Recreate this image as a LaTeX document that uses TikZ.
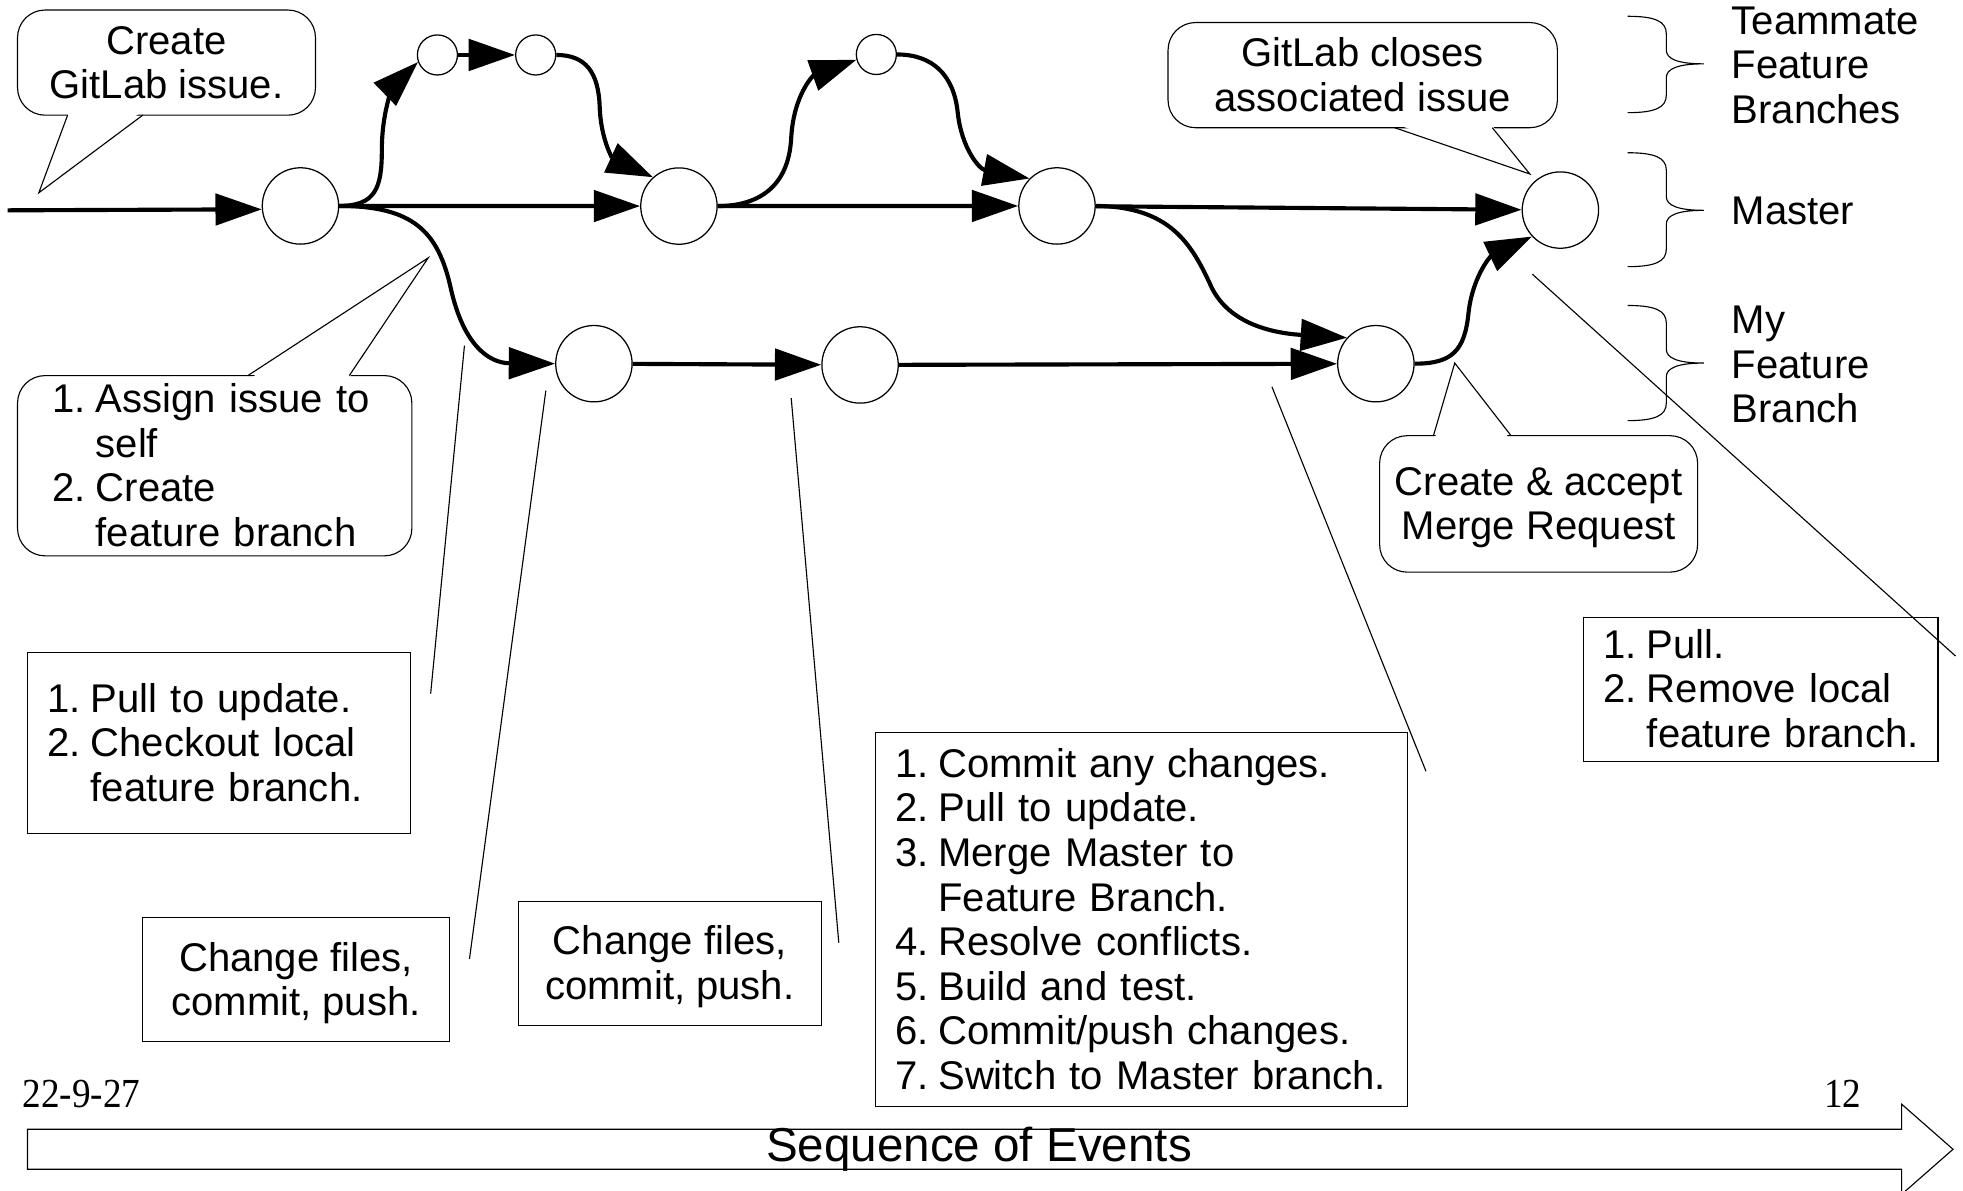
\documentclass[tikz,border=0pt]{standalone}
\usepackage{fontspec}
\setmainfont{Liberation Sans}
\newfontfamily\seriffont{Liberation Serif}
\usetikzlibrary{arrows.meta}
\frenchspacing
\newcommand\tline[1]{\mbox{\rule[-6.7pt]{0pt}{35.4pt}#1}}
\newcommand\numbox[1]{\makebox[34.5pt][l]{#1}}
\begin{document}
\begin{tikzpicture}[x=1pt,y=-1pt,
  commit/.style={circle,draw,line width=1pt,fill=white,minimum size=61pt,inner sep=0pt},
  smallcommit/.style={circle,draw,line width=1pt,fill=white,minimum size=32pt,inner sep=0pt},
  flow/.style={line width=3.3pt,-{Triangle[length=37pt,width=25pt]}},
  thinline/.style={line width=0.9pt},
  txt/.style={font=\fontsize{32}{35.6}\selectfont},
  listbox/.style={draw,line width=0.9pt,txt,align=left,inner xsep=16pt,inner ysep=0pt},
  plainbox/.style={draw,line width=0.9pt,txt,align=center,inner sep=0pt},
  bubble/.style={draw,line width=0.9pt,fill=white,rounded corners=22pt,txt,inner sep=0pt},
  lbl/.style={txt,align=left,inner sep=0pt,anchor=west},
  datefont/.style={font=\seriffont\fontsize{33}{36}\selectfont,inner sep=0pt,anchor=base west}
]
\useasboundingbox (0,0) rectangle (1568,951);

% commits
\node[commit] (A) at (240,164.5) {};
\node[commit] (B) at (542.3,164.6) {};
\node[commit] (C) at (844.3,164.5) {};
\node[commit] (D) at (1246.4,167.8) {};
\node[commit] (E) at (474.4,290.5) {};
\node[commit] (F) at (687,291.5) {};
\node[commit] (G) at (1099,290.5) {};
\node[smallcommit] (T1) at (349.4,43.9) {};
\node[smallcommit] (T2) at (427.9,43.9) {};
\node[smallcommit] (T3) at (700,43.5) {};
\coordinate (start) at (6,168);

% flows
\draw[flow] (start) -- (A.185);
\draw[flow] (A.east) .. controls (300,164.5) and (305,150) .. (305,120) .. controls (305,82) and (318,65) .. (T1.200);
\draw[flow] (T1) -- (T2);
\draw[flow] (T2.east) .. controls (468,43.9) and (478,58) .. (479,85) .. controls (480,113) and (490,127) .. (B.132);
\draw[flow] (A) -- (B);
\draw[flow] (A.east) .. controls (330,164.5) and (350,185) .. (360,230) .. controls (370,275) and (390,290) .. (E.west);
\draw[flow] (B.east) .. controls (605,164.6) and (630,150) .. (632,110) .. controls (634,75) and (650,60) .. (T3.195);
\draw[flow] (T3.east) .. controls (745,43.5) and (762,60) .. (765,90) .. controls (768,118) and (782,135) .. (C.135);
\draw[flow] (B) -- (C);
\draw[flow] (C) -- (D);
\draw[flow] (C.east) .. controls (935,165) and (952,195) .. (968,230) .. controls (982,258) and (1015,266) .. (G.138);
\draw[flow] (E) -- (F);
\draw[flow] (F) -- (G);
\draw[flow] (G.east) .. controls (1160,290.5) and (1170,280) .. (1173,250) .. controls (1176,222) and (1190,205) .. (D.223);

% callouts
\node[bubble, minimum width=238pt, minimum height=84pt, align=center] (issue) at (133,50) {\tline{Create}\\\tline{GitLab issue.}};
\fill[white] (55,89) -- (31,154) -- (113,89) -- cycle;
\draw[thinline] (54,92) coordinate (i1) -- (31,154) coordinate (itip) -- (114,92) coordinate (i2);

\node[bubble, text width=259pt, inner xsep=28pt, minimum height=144pt, align=left] (assign) at (171.5,372) {\tline{\numbox{1.}Assign issue to}\\\tline{\numbox{}self}\\\tline{\numbox{2.}Create}\\\tline{\numbox{}feature branch}};
\fill[white] (199,303) -- (342,206) -- (278,303) -- cycle;
\draw[thinline] (198,300) coordinate (a1) -- (342,206) coordinate (atip) -- (279,300) coordinate (a2);

\node[bubble, minimum width=311pt, minimum height=84pt, align=center] (closes) at (1088.5,60) {\tline{GitLab closes}\\\tline{associated issue}};
\fill[white] (1115,99) -- (1222,139) -- (1191,99) -- cycle;
\draw[thinline] (1114,102) coordinate (c1) -- (1222,139) coordinate (ctip) -- (1192,102) coordinate (c2);

\node[bubble, minimum width=254pt, minimum height=109pt, align=center] (mr) at (1229,402.5) {\tline{Create \& accept}\\\tline{Merge Request}};
\fill[white] (1146,351) -- (1162,290) -- (1206,351) -- cycle;
\draw[thinline] (1145,348) coordinate (m1) -- (1162,290) coordinate (mtip) -- (1207,348) coordinate (m2);

% boxes
\node[listbox, text width=274pt, minimum height=145pt] (pullbox) at (175,593.5) {\tline{\numbox{1.}Pull to update.}\\\tline{\numbox{2.}Checkout local}\\\tline{\numbox{}feature branch.}};
\node[plainbox, minimum width=245pt, minimum height=99pt] (chg1) at (236.5,782.5) {\tline{Change files,}\\\tline{commit, push.}};
\node[plainbox, minimum width=242pt, minimum height=99pt] (chg2) at (535,769.5) {\tline{Change files,}\\\tline{commit, push.}};
\node[listbox, text width=393pt, minimum height=299pt] (merge) at (911.5,734.5) {\tline{\numbox{1.}Commit any changes.}\\\tline{\numbox{2.}Pull to update.}\\\tline{\numbox{3.}Merge Master to}\\\tline{\numbox{}Feature Branch.}\\\tline{\numbox{4.}Resolve conflicts.}\\\tline{\numbox{5.}Build and test.}\\\tline{\numbox{6.}Commit/push changes.}\\\tline{\numbox{7.}Switch to Master branch.}};
\node[listbox, text width=251pt, minimum height=115pt] (cleanup) at (1406.5,550.5) {\tline{\numbox{1.}Pull.}\\\tline{\numbox{2.}Remove local}\\\tline{\numbox{}feature branch.}};

% annotation lines
\coordinate (p1a) at (344,554); \coordinate (p1b) at (371,276);
\coordinate (p2a) at (375,766); \coordinate (p2b) at (436,312);
\coordinate (p3a) at (670,753); \coordinate (p3b) at (632,318);
\coordinate (p4a) at (1139,616); \coordinate (p4b) at (1016,309);
\coordinate (p5a) at (1224,219); \coordinate (p5b) at (1562,524);
\draw[thinline] (p1a) -- (p1b);
\draw[thinline] (p2a) -- (p2b);
\draw[thinline] (p3a) -- (p3b);
\draw[thinline] (p4a) -- (p4b);
\draw[thinline] (p5a) -- (p5b);

% braces
\draw[thinline] (1300,13) .. controls (1322,13) and (1331,17) .. (1331,27) -- (1331,40) .. controls (1331,47) and (1340,51) .. (1361,51) .. controls (1340,51) and (1331,55) .. (1331,62) -- (1331,76) .. controls (1331,86) and (1322,90) .. (1300,90);
\draw[thinline] (1300,122) .. controls (1322,122) and (1331,126) .. (1331,136) -- (1331,157) .. controls (1331,164) and (1340,168) .. (1361,168) .. controls (1340,168) and (1331,172) .. (1331,179) -- (1331,199) .. controls (1331,209) and (1322,213) .. (1300,213);
\draw[thinline] (1300,244) .. controls (1322,244) and (1331,248) .. (1331,258) -- (1331,279) .. controls (1331,286) and (1340,290) .. (1361,290) .. controls (1340,290) and (1331,294) .. (1331,301) -- (1331,322) .. controls (1331,332) and (1322,336) .. (1300,336);

\node[lbl] (teamlbl) at (1383,52) {\tline{Teammate}\\\tline{Feature}\\\tline{Branches}};
\node[lbl] (masterlbl) at (1383,168) {\tline{Master}};
\node[lbl] (mylbl) at (1383,291) {\tline{My}\\\tline{Feature}\\\tline{Branch}};

% footer
\node[datefont] (date) at (18,885) {\scalebox{0.9}[1]{22-9-27}};
\node[datefont] (page) at (1457,885) {\scalebox{0.9}[1]{12}};
\draw[thinline] (22,902) -- (1519,902) -- (1519,882) -- (1560,918) -- (1519,954) -- (1519,934) -- (22,934) -- cycle;
\node[font=\fontsize{38}{40}\selectfont, anchor=base, inner sep=0pt] (seq) at (782,928) {Sequence of Events};
\end{tikzpicture}
\end{document}
